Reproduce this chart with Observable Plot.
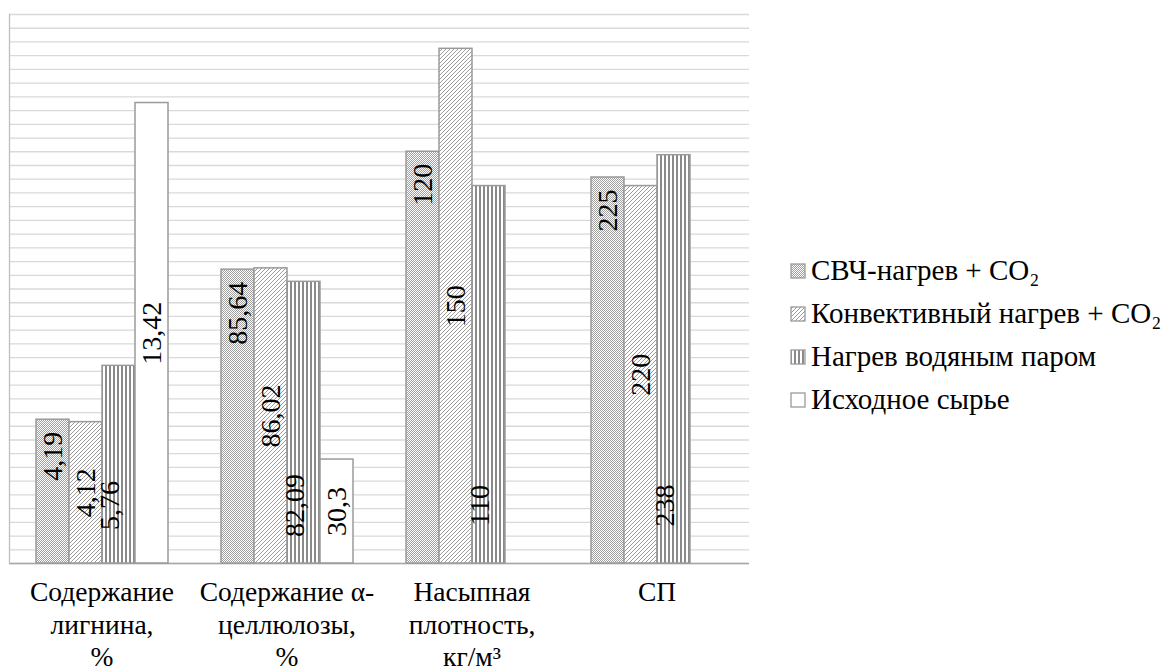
<!DOCTYPE html>
<html><head><meta charset="utf-8">
<script src="https://cdn.jsdelivr.net/npm/d3@7"></script>
<script src="https://cdn.jsdelivr.net/npm/@observablehq/plot@0.6"></script>
</head>
<body style="margin:0;background:#fff;font-family:'Liberation Serif'">
<div id="wrap" style="position:relative;width:1170px;height:671px;font-family:'Liberation Serif'">
  <div id="chart"></div>
  <div id="legend" style="position:absolute;left:790px;top:249px;font-family:'Liberation Serif'"></div>
</div>
<svg width="0" height="0" style="position:absolute;left:0;top:0">
  <defs>
    <pattern id="pMW" patternUnits="userSpaceOnUse" width="2" height="2">
      <rect width="2" height="2" fill="#ffffff"/>
      <rect x="0" y="0" width="1" height="1" fill="#a0a0a0"/>
      <rect x="1" y="1" width="1" height="1" fill="#a0a0a0"/>
    </pattern>
    <pattern id="pCV" patternUnits="userSpaceOnUse" width="4" height="4">
      <rect width="4" height="4" fill="#ffffff"/>
      <path d="M-1,1 L1,-1 M0,4 L4,0 M3,5 L5,3" stroke="#909090" stroke-width="0.9"/>
    </pattern>
    <pattern id="pST" patternUnits="userSpaceOnUse" width="4" height="4">
      <rect width="4" height="4" fill="#ffffff"/>
      <rect x="0" y="0" width="2" height="4" fill="#8a8a8a"/>
    </pattern>
  </defs>
</svg>
<script>
// ---- data ----
const categories = ["lignin", "cellulose", "density", "sp"];
const categoryLabels = ["Содержание\nлигнина,\n%", "Содержание α-\nцеллюлозы,\n%", "Насыпная\nплотность,\nкг/м³", "СП"];
const series = ["СВЧ-нагрев + CO₂", "Конвективный нагрев + CO₂", "Нагрев водяным паром", "Исходное сырье"];
const microwave  = [4.19, 85.64, 120, 225];
const convective = [4.12, 86.02, 150, 220];
const steam      = [5.76, 82.09, 110, 238];
const raw        = [13.42, 30.3, null, null];
// each category is drawn at value / divisor so that the groups share one axis
const divisors   = [1, 10, 10, 20];
const patterns   = ["url(#pMW)", "url(#pCV)", "url(#pST)", "#ffffff"];

const rows = [];
[microwave, convective, steam, raw].forEach((vals, si) => {
  vals.forEach((v, ci) => {
    if (v == null) return;
    rows.push({
      category: categories[ci],
      series: series[si],
      si,
      value: v,
      h: v / divisors[ci],
      label: String(v).replace(".", ","),
      fill: patterns[si]
    });
  });
});
const gridTicks = d3.range(41).map(i => i * 0.4);
const catRows = categories.map((c, i) => ({c, t: categoryLabels[i]}));

const FONT = "Liberation Serif";
const fsVal = 28;
const fsCat = 27.5;
const chart = Plot.plot({
  width: 770,
  height: 671,
  marginTop: 14,
  marginLeft: 8,
  marginRight: 21,
  marginBottom: 108,
  style: {fontFamily: FONT, background: "#fff", color: "#000"},
  fx: {domain: categories, padding: 0, axis: null},
  x: {domain: series, paddingInner: 0, paddingOuter: 0.75, axis: null},
  y: {domain: [0, 16], axis: null},
  color: {type: "identity"},
  marks: [
    Plot.gridY(gridTicks, {stroke: "#d9d9d9", strokeOpacity: 1, strokeWidth: 1.3}),
    Plot.ruleY([0], {stroke: "#a6a6a6", strokeWidth: 1.3}),
    Plot.frame({anchor: "left", facetAnchor: "left", stroke: "#bfbfbf", strokeWidth: 1.3}),
    Plot.barY(rows, {fx: "category", x: "series", y: "h", fill: "fill", stroke: "#9a9a9a", strokeWidth: 1.5}),
    Plot.text(rows.filter(d => d.si === 0), {fx: "category", x: "series", y: "h", text: "label", rotate: -90, textAnchor: "end", dy: 12, fontSize: fsVal, fontFamily: FONT, fill: "#000"}),
    Plot.text(rows.filter(d => d.si === 1 || d.si === 3), {fx: "category", x: "series", y: d => d.h / 2, text: "label", rotate: -90, textAnchor: "middle", fontSize: fsVal, fontFamily: FONT, fill: "#000"}),
    Plot.text(rows.filter(d => d.si === 2), {fx: "category", x: "series", frameAnchor: "bottom", dy: -58, text: "label", rotate: -90, textAnchor: "middle", fontSize: fsVal, fontFamily: FONT, fill: "#000"}),
    Plot.text(catRows, {fx: "c", text: "t", frameAnchor: "bottom", lineAnchor: "top", dy: 15, fontSize: fsCat, fontFamily: FONT, lineHeight: 1.17, fill: "#000"})
  ]
});
document.getElementById("chart").appendChild(chart);

// legend
const legend = document.getElementById("legend");
series.forEach((s, i) => {
  const row = document.createElement("div");
  row.style.cssText = "display:flex;align-items:center;height:43px;font-size:29px;color:#000;white-space:nowrap;font-family:'Liberation Serif'";
  row.innerHTML = `<svg width="16" height="16" style="margin-right:5px;flex:none"><rect x="1" y="1" width="14" height="14" fill="${patterns[i]}" stroke="#9a9a9a" stroke-width="1.3"/></svg><span>${s}</span>`;
  legend.appendChild(row);
});
</script>
</body></html>
